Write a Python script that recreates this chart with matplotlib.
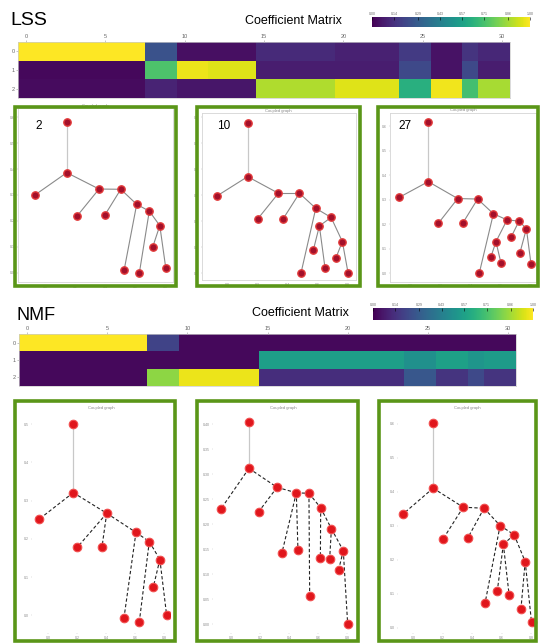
import matplotlib
matplotlib.use("Agg")
import matplotlib.pyplot as plt
from matplotlib.patches import Rectangle

plt.rcParams['font.family'] = ['Liberation Sans', 'DejaVu Sans']

W, H = 541, 644
GREEN = '#5a9618'

# coefficient matrices (3 components x 31 samples)
lss_row0 = [1.0, 1.0, 1.0, 1.0, 1.0, 1.0, 1.0, 1.0, 0.25, 0.25, 0.04, 0.04, 0.04, 0.04, 0.04,
            0.12, 0.12, 0.12, 0.12, 0.12, 0.09, 0.09, 0.09, 0.09, 0.17, 0.17, 0.05, 0.05, 0.15, 0.11, 0.11]
lss_row1 = [0.02, 0.02, 0.02, 0.02, 0.02, 0.02, 0.02, 0.02, 0.72, 0.72, 0.97, 0.97, 0.95, 0.95, 0.95,
            0.08, 0.08, 0.08, 0.08, 0.08, 0.08, 0.08, 0.08, 0.08, 0.22, 0.22, 0.05, 0.05, 0.22, 0.08, 0.08]
lss_row2 = [0.03, 0.03, 0.03, 0.03, 0.03, 0.03, 0.03, 0.03, 0.10, 0.10, 0.06, 0.06, 0.06, 0.06, 0.06,
            0.88, 0.88, 0.88, 0.88, 0.88, 0.95, 0.95, 0.95, 0.95, 0.63, 0.63, 0.98, 0.98, 0.70, 0.87, 0.87]

nmf_row0 = [1.0, 1.0, 1.0, 1.0, 1.0, 1.0, 1.0, 1.0, 0.20, 0.20, 0.02, 0.02, 0.02, 0.02, 0.02,
            0.02, 0.02, 0.02, 0.02, 0.02, 0.02, 0.02, 0.02, 0.02, 0.02, 0.02, 0.02, 0.02, 0.02, 0.02, 0.02]
nmf_row1 = [0.02, 0.02, 0.02, 0.02, 0.02, 0.02, 0.02, 0.02, 0.02, 0.02, 0.02, 0.02, 0.02, 0.02, 0.02,
            0.56, 0.56, 0.56, 0.56, 0.56, 0.56, 0.56, 0.56, 0.56, 0.50, 0.50, 0.57, 0.57, 0.52, 0.55, 0.55]
nmf_row2 = [0.02, 0.02, 0.02, 0.02, 0.02, 0.02, 0.02, 0.02, 0.83, 0.83, 0.97, 0.97, 0.97, 0.97, 0.97,
            0.13, 0.13, 0.13, 0.13, 0.13, 0.13, 0.13, 0.13, 0.13, 0.27, 0.27, 0.15, 0.15, 0.22, 0.15, 0.15]

# tree layouts: node coordinates and edges (pairs of node indices)
lss2_x = [0.145, 0.145, -0.067, 0.36, 0.505, 0.215, 0.398, 0.611, 0.695, 0.765, 0.527, 0.629, 0.718, 0.805]
lss2_y = [0.58, 0.386, 0.30, 0.323, 0.322, 0.22, 0.222, 0.264, 0.238, 0.182, 0.01, 0.001, 0.10, 0.018]
lss2_edges = [(0, 1), (1, 2), (1, 3), (3, 5), (3, 4), (4, 6), (4, 7), (7, 10), (7, 8), (8, 11), (8, 9),
              (9, 12), (9, 13)]

lss10_x = [0.133, 0.133, -0.073, 0.338, 0.478, 0.2, 0.369, 0.587, 0.689, 0.611, 0.489, 0.571, 0.649,
           0.764, 0.722, 0.802]
lss10_y = [0.579, 0.372, 0.297, 0.308, 0.308, 0.209, 0.209, 0.25, 0.215, 0.182, 0.002, 0.09, 0.019,
           0.122, 0.06, 0.002]
lss10_edges = [(0, 1), (1, 2), (1, 3), (3, 5), (3, 4), (4, 6), (4, 7), (7, 10), (7, 8), (8, 9), (9, 11),
               (9, 12), (8, 13), (13, 14), (13, 15)]

lss27_x = [0.122, 0.122, -0.071, 0.318, 0.451, 0.189, 0.351, 0.556, 0.647, 0.727, 0.573, 0.462, 0.54,
           0.607, 0.675, 0.776, 0.733, 0.807]
lss27_y = [0.616, 0.374, 0.310, 0.305, 0.303, 0.204, 0.204, 0.243, 0.218, 0.213, 0.129, 0.001, 0.068,
           0.041, 0.149, 0.182, 0.084, 0.037]
lss27_edges = [(0, 1), (1, 2), (1, 3), (3, 5), (3, 4), (4, 6), (4, 7), (7, 11), (7, 8), (8, 10), (10, 12),
               (10, 13), (8, 9), (9, 14), (9, 15), (15, 16), (15, 17)]

nmf2_x = [0.172, 0.172, -0.062, 0.403, 0.2, 0.37, 0.605, 0.697, 0.77, 0.522, 0.628, 0.724, 0.817]
nmf2_y = [0.5, 0.321, 0.252, 0.267, 0.178, 0.178, 0.217, 0.193, 0.146, -0.007, -0.017, 0.073, 0.0]
nmf2_edges = [(0, 1), (1, 2), (1, 3), (3, 4), (3, 5), (3, 6), (6, 9), (6, 7), (7, 10), (7, 8), (8, 11),
              (8, 12)]

nmf10_x = [0.121, 0.121, -0.074, 0.315, 0.448, 0.535, 0.616, 0.69, 0.772, 0.188, 0.349, 0.459, 0.54,
           0.614, 0.678, 0.74, 0.802]
nmf10_y = [0.404, 0.312, 0.23, 0.274, 0.263, 0.262, 0.233, 0.191, 0.147, 0.225, 0.143, 0.149, 0.057,
           0.133, 0.131, 0.109, 0.001]
nmf10_edges = [(0, 1), (1, 2), (1, 3), (3, 9), (3, 4), (4, 10), (4, 11), (4, 5), (5, 12), (5, 6), (6, 13),
               (6, 7), (7, 14), (7, 8), (8, 15), (8, 16)]

nmf27_x = [0.136, 0.136, -0.068, 0.34, 0.204, 0.481, 0.37, 0.59, 0.685, 0.612, 0.76, 0.488, 0.571,
           0.651, 0.731, 0.803]
nmf27_y = [0.601, 0.41, 0.334, 0.354, 0.261, 0.351, 0.263, 0.3, 0.273, 0.245, 0.194, 0.072, 0.108,
           0.096, 0.054, 0.015]
nmf27_edges = [(0, 1), (1, 2), (1, 3), (3, 4), (3, 5), (5, 6), (5, 7), (7, 11), (7, 8), (8, 9), (9, 12),
               (9, 13), (8, 10), (10, 14), (10, 15)]

k_labels = ['2', '10', '27']

fig = plt.figure(figsize=(W / 100, H / 100), dpi=100)


def px_axes(x0, y0, x1, y1):
    return fig.add_axes([x0 / W, 1 - y1 / H, (x1 - x0) / W, (y1 - y0) / H])


def green_box(x0, y0, x1, y1):
    fig.add_artist(Rectangle((x0 / W, 1 - y1 / H), (x1 - x0) / W, (y1 - y0) / H,
                             transform=fig.transFigure, fill=False, ec=GREEN, lw=2.6, zorder=10))


def heatmap(rows, box, cbox, title, tbox):
    ax = px_axes(*box)
    im = ax.imshow(rows, cmap='viridis', vmin=0, vmax=1, aspect='auto', interpolation='nearest')
    ax.xaxis.tick_top()
    ax.set_xticks(range(0, 31, 5))
    ax.set_yticks([0, 1, 2])
    ax.tick_params(labelsize=4, labelcolor='#666666', length=1.5, width=0.4, color='#999999', pad=1)
    for s in ax.spines.values():
        s.set_color('#cccccc')
        s.set_linewidth(0.5)
    cax = px_axes(*cbox)
    cb = fig.colorbar(im, cax=cax, orientation='horizontal')
    cb.set_ticks([0, 0.14, 0.29, 0.43, 0.57, 0.71, 0.86, 1.0])
    cax.xaxis.set_ticks_position('top')
    cax.tick_params(labelsize=2.5, labelcolor='#666666', length=2, width=0.4, color='black',
                    direction='in', pad=1)
    cb.outline.set_visible(False)
    fig.text(tbox[0] / W, 1 - tbox[1] / H, title, fontsize=tbox[2], ha='left', va='baseline')
    fig.text(tbox[3] / W, 1 - tbox[4] / H, 'Coefficient Matrix', fontsize=9, ha='right', va='baseline')


heatmap([lss_row0, lss_row1, lss_row2], (18, 42, 510, 98), (372, 17, 530, 27),
        'LSS', (10, 25, 14, 342, 24))
heatmap([nmf_row0, nmf_row1, nmf_row2], (19, 334, 516, 386), (373, 308, 533, 320),
        'NMF', (17, 320, 13, 349, 316))


def tree(xs, ys, edges, box, xlim, ylim, dashed):
    ax = px_axes(*box)
    for i, j in edges:
        if (i, j) == (0, 1):
            ax.plot([xs[i], xs[j]], [ys[i], ys[j]], color='#c8c8c8', lw=0.9, zorder=1)
        elif dashed:
            ax.plot([xs[i], xs[j]], [ys[i], ys[j]], color='#222222', lw=0.8, ls=(0, (3, 2)), zorder=1)
        else:
            ax.plot([xs[i], xs[j]], [ys[i], ys[j]], color='#8a8a8a', lw=0.8, zorder=1)
    if dashed:
        ax.scatter(xs, ys, s=38, c='#e0161c', edgecolors='#f25050', linewidths=0.8, zorder=3)
    else:
        ax.scatter(xs, ys, s=28, c='#a3102a', edgecolors='#e23a3a', linewidths=1.0, zorder=3)
    ax.set_xlim(*xlim)
    ax.set_ylim(*ylim)
    ax.set_xticks([0, 0.2, 0.4, 0.6, 0.8])
    ax.tick_params(labelsize=2.5, labelcolor='#888888', length=1, width=0.3, color='#bbbbbb', pad=1)
    ax.set_title('Coupled graph', fontsize=3, color='#888888', pad=1)
    for s in ax.spines.values():
        s.set_color('#d5d5d5' if not dashed else 'none')
        s.set_linewidth(0.6)
    return ax


lss_panels = [(lss2_x, lss2_y, lss2_edges, (18, 108, 173, 282), (-0.18, 0.853), (-0.035, 0.635)),
              (lss10_x, lss10_y, lss10_edges, (201.7, 113, 355.7, 280), (-0.173, 0.853), (-0.026, 0.617)),
              (lss27_x, lss27_y, lss27_edges, (390, 112.7, 536, 281.7), (-0.133, 0.84), (-0.034, 0.655))]
nmf_panels = [(nmf2_x, nmf2_y, nmf2_edges, (31.7, 410, 170, 633), (-0.115, 0.84), (-0.046, 0.537)),
              (nmf10_x, nmf10_y, nmf10_edges, (213, 410, 353, 633), (-0.127, 0.839), (-0.018, 0.429)),
              (nmf27_x, nmf27_y, nmf27_edges, (398, 410, 537, 633), (-0.102, 0.84), (-0.016, 0.64))]

for xs, ys, edges, box, xl, yl in lss_panels:
    tree(xs, ys, edges, box, xl, yl, dashed=False)
for xs, ys, edges, box, xl, yl in nmf_panels:
    tree(xs, ys, edges, box, xl, yl, dashed=True)

lss_boxes = [(15, 107, 176, 286), (197, 107, 360, 286), (378, 107, 538, 286)]
nmf_boxes = [(15, 401, 175, 641), (197, 401, 358, 641), (379, 401, 536, 641)]
for b in lss_boxes + nmf_boxes:
    green_box(*b)

# k labels sit about 20 px inside each top box
for b, lab in zip(lss_boxes, k_labels):
    fig.text((b[0] + 20) / W, 1 - 126 / H, lab, fontsize=8.5, ha='left', va='center', zorder=11)

fig.savefig('out.png', dpi=100)
